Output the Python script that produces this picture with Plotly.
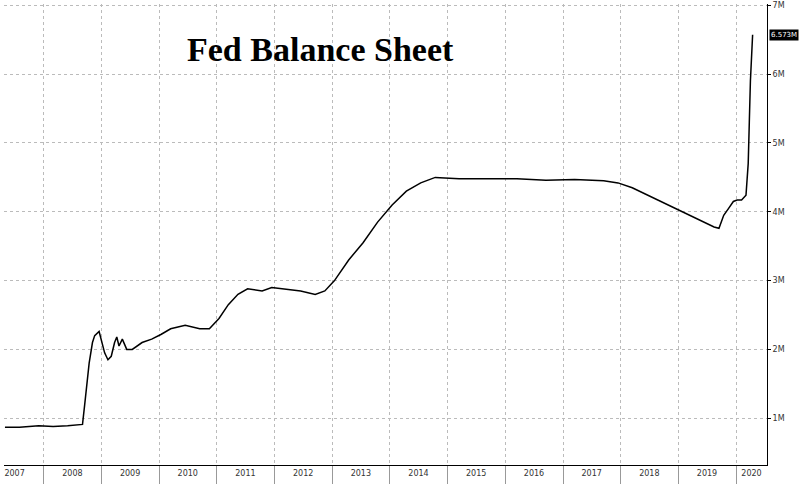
import plotly.graph_objects as go

# --- Data (values in trillions USD shown as "M") ---
dates = [
    "2007-05-01", "2007-08-01", "2007-12-01", "2008-03-01", "2008-06-01", "2008-09-03",
    "2008-09-17", "2008-10-01", "2008-10-15", "2008-11-05", "2008-11-19", "2008-12-17",
    "2009-01-07", "2009-01-21", "2009-02-11", "2009-03-04", "2009-03-25", "2009-04-08",
    "2009-04-22", "2009-05-13", "2009-06-10", "2009-07-15", "2009-09-15", "2009-11-15",
    "2010-01-15", "2010-03-15", "2010-06-15", "2010-09-15", "2010-11-15",
    "2011-01-15", "2011-03-15", "2011-05-15", "2011-07-15", "2011-10-15", "2011-12-15",
    "2012-03-15", "2012-06-15", "2012-09-15", "2012-11-15",
    "2013-01-15", "2013-04-15", "2013-07-15", "2013-10-15",
    "2014-01-15", "2014-04-15", "2014-07-15", "2014-10-15",
    "2015-03-15", "2015-09-15", "2016-03-15", "2016-09-15", "2017-03-15", "2017-09-15",
    "2017-12-15", "2018-03-15", "2018-06-15", "2018-09-15", "2018-12-15",
    "2019-03-15", "2019-06-15", "2019-08-15", "2019-09-15", "2019-10-15", "2019-11-15",
    "2019-12-15", "2020-01-08", "2020-02-05", "2020-03-04", "2020-03-18", "2020-03-25",
    "2020-04-01", "2020-04-15",
]
balance = [
    0.87, 0.87, 0.89, 0.88, 0.89, 0.91,
    1.20, 1.50, 1.80, 2.10, 2.20, 2.26,
    2.05, 1.95, 1.85, 1.90, 2.10, 2.18,
    2.05, 2.15, 2.00, 2.00, 2.10, 2.15,
    2.22, 2.30, 2.35, 2.30, 2.30,
    2.45, 2.65, 2.80, 2.88, 2.85, 2.90,
    2.88, 2.85, 2.80, 2.85,
    3.00, 3.30, 3.55, 3.85,
    4.10, 4.30, 4.42, 4.50,
    4.48, 4.48, 4.48, 4.46, 4.47, 4.45,
    4.42, 4.35, 4.25, 4.15, 4.05,
    3.95, 3.85, 3.78, 3.76, 3.95, 4.05,
    4.15, 4.17, 4.17, 4.24, 4.70, 5.30,
    5.90, 6.573,
]
year_mids = ["%d-07-01" % y for y in range(2007, 2020)] + ["2020-04-08"]
year_labels = [str(y) for y in range(2007, 2021)]
y_ticks = [1, 2, 3, 4, 5, 6, 7]
y_labels = ["1M", "2M", "3M", "4M", "5M", "6M", "7M"]

fig = go.Figure()
fig.add_trace(go.Scatter(x=dates, y=balance, mode="lines",
                         line=dict(color="black", width=1.5), hoverinfo="skip"))

fig.update_xaxes(
    range=["2007-04-25", "2020-07-15"], automargin=False,
    tickvals=year_mids, ticktext=year_labels, ticks="", showgrid=False,
    minor=dict(tick0="2007-01-01", dtick="M12", showgrid=True, gridcolor="#bbbbbb",
               griddash="dot", gridwidth=1, ticks="outside", ticklen=18,
               tickcolor="#999"),
    showline=True, linecolor="black", linewidth=1,
    tickfont=dict(family="DejaVu Sans", size=8, color="#333"),
)
fig.update_yaxes(
    side="right", range=[0.32, 7.02], automargin=False,
    tickvals=y_ticks, ticktext=y_labels,
    showgrid=True, gridcolor="#bbbbbb", griddash="dot", gridwidth=1,
    showline=True, linecolor="black", linewidth=1,
    ticks="outside", ticklen=3, tickcolor="black",
    tickfont=dict(family="DejaVu Sans", size=8, color="#333"),
    zeroline=False,
)

fig.add_annotation(text="<b>Fed Balance Sheet</b>", xref="paper", yref="paper",
                   x=0.415, y=0.945, showarrow=False,
                   font=dict(family="Liberation Serif", size=34, color="black"))
fig.add_annotation(text="6.573M", xref="paper", yref="y",
                   x=1.002, y=6.573, xanchor="left", showarrow=False,
                   bgcolor="black", borderpad=1,
                   font=dict(family="DejaVu Sans", size=7, color="white"))

fig.update_layout(
    width=800, height=484, showlegend=False,
    plot_bgcolor="white", paper_bgcolor="white",
    margin=dict(l=4, r=33, t=4, b=19),
)

# drop the browser's default body margin so the figure sits at the page corner
fig.write_html("out.html", config={"displayModeBar": False},
               post_script="document.body.style.margin='0';")
